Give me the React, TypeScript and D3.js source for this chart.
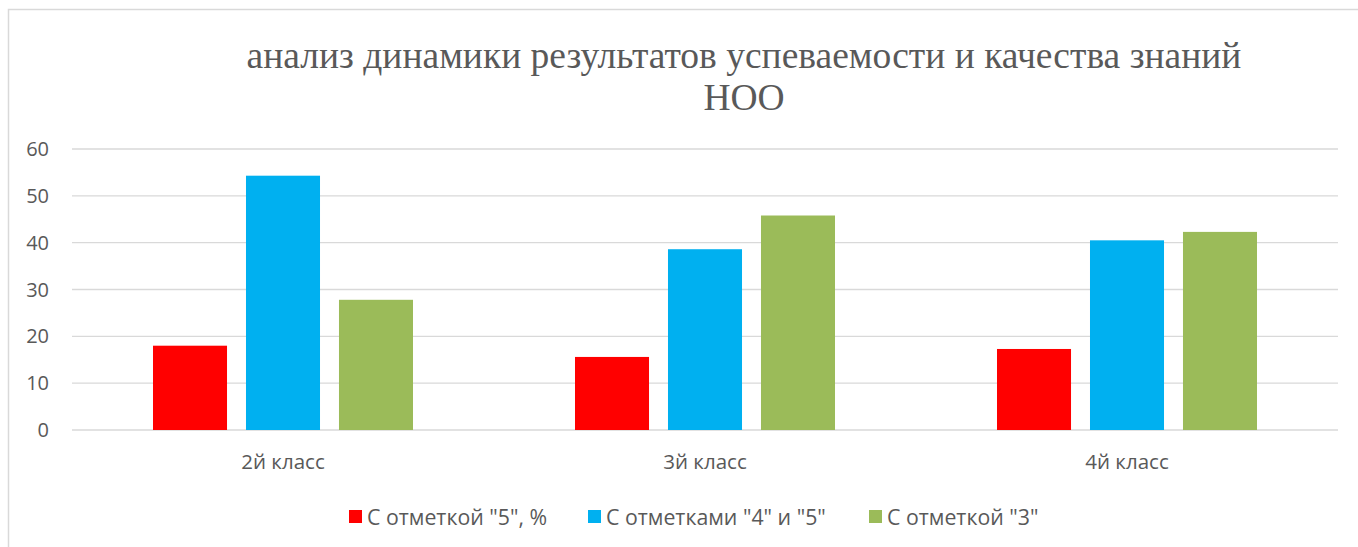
import { useEffect, useRef } from "react";
import * as d3 from "d3";

const categories = ["2й класс", "3й класс", "4й класс"];
const seriesNames = ['С отметкой "5", %', 'С отметками "4" и "5"', 'С отметкой "3"'];
const seriesColors = ["#FF0000", "#00B0F0", "#9BBB59"];
const excellent = [18.0, 15.6, 17.3];
const good = [54.3, 38.6, 40.5];
const satisfactory = [27.8, 45.8, 42.3];
const yTicks = [0, 10, 20, 30, 40, 50, 60];
const titleLines = ["анализ динамики результатов успеваемости и качества знаний", "НОО"];

const W = 1358;
const H = 547;

export default function App() {
  const ref = useRef<SVGSVGElement | null>(null);

  useEffect(() => {
    const svg = d3.select(ref.current);
    svg.selectAll("*").remove();

    const m = { t: 149, r: 20, b: 117, l: 72 };
    const x0 = m.l;
    const x1 = W - m.r;
    const yTop = m.t;
    const yBot = H - m.b;

    const textColor = "#595959";
    const gridColor = "#d9d9d9";
    const sans = "'Open Sans', 'Noto Sans', sans-serif";

    // chart frame
    svg
      .append("rect")
      .attr("x", 8.5)
      .attr("y", 9.5)
      .attr("width", W + 20)
      .attr("height", H + 20)
      .attr("fill", "#fff")
      .attr("stroke", gridColor)
      .attr("stroke-width", 1.5);

    // title
    const title = svg
      .append("text")
      .attr("text-anchor", "middle")
      .attr("font-family", "'Liberation Serif', 'Times New Roman', serif")
      .attr("font-size", 37.5)
      .attr("fill", textColor);
    titleLines.forEach((line, i) => {
      title
        .append("tspan")
        .attr("x", 744)
        .attr("y", 68 + i * 42)
        .text(line);
    });

    const y = d3.scaleLinear().domain([0, 60]).range([yBot, yTop]);

    const xCat = d3.scaleBand<string>().domain(categories).range([x0, x1]).padding(0);
    const xSer = d3
      .scaleBand<number>()
      .domain(d3.range(seriesNames.length))
      .range([0, xCat.bandwidth()])
      .paddingInner(0.204)
      .paddingOuter(0.871);

    // gridlines + y labels
    yTicks.forEach((tv) => {
      svg
        .append("line")
        .attr("x1", x0)
        .attr("x2", x1)
        .attr("y1", y(tv))
        .attr("y2", y(tv))
        .attr("stroke", gridColor)
        .attr("stroke-width", 1.3);
      svg
        .append("text")
        .attr("x", 49)
        .attr("y", y(tv) + 7)
        .attr("text-anchor", "end")
        .attr("font-family", sans)
        .attr("font-size", 20)
        .attr("fill", textColor)
        .text(tv);
    });

    const series = [excellent, good, satisfactory];
    series.forEach((vals, si) => {
      svg
        .append("g")
        .selectAll("rect")
        .data(vals)
        .join("rect")
        .attr("x", (_, i) => (xCat(categories[i]) ?? 0) + (xSer(si) ?? 0))
        .attr("y", (d) => y(d))
        .attr("width", xSer.bandwidth())
        .attr("height", (d) => yBot - y(d))
        .attr("fill", seriesColors[si]);
    });

    // category labels
    categories.forEach((c) => {
      svg
        .append("text")
        .attr("x", (xCat(c) ?? 0) + xCat.bandwidth() / 2)
        .attr("y", 469)
        .attr("text-anchor", "middle")
        .attr("font-family", sans)
        .attr("font-size", 20.5)
        .attr("fill", textColor)
        .text(c);
    });

    // legend
    const legendX = [349, 588, 869];
    seriesNames.forEach((name, i) => {
      svg
        .append("rect")
        .attr("x", legendX[i])
        .attr("y", 510)
        .attr("width", 13)
        .attr("height", 13)
        .attr("fill", seriesColors[i]);
      svg
        .append("text")
        .attr("x", legendX[i] + 18)
        .attr("y", 525)
        .attr("font-family", sans)
        .attr("font-size", 21.3)
        .attr("fill", textColor)
        .text(name);
    });
  }, []);

  return (
    <svg
      ref={ref}
      width={W}
      height={H}
      style={{ position: "absolute", left: 0, top: 0, display: "block" }}
    />
  );
}
